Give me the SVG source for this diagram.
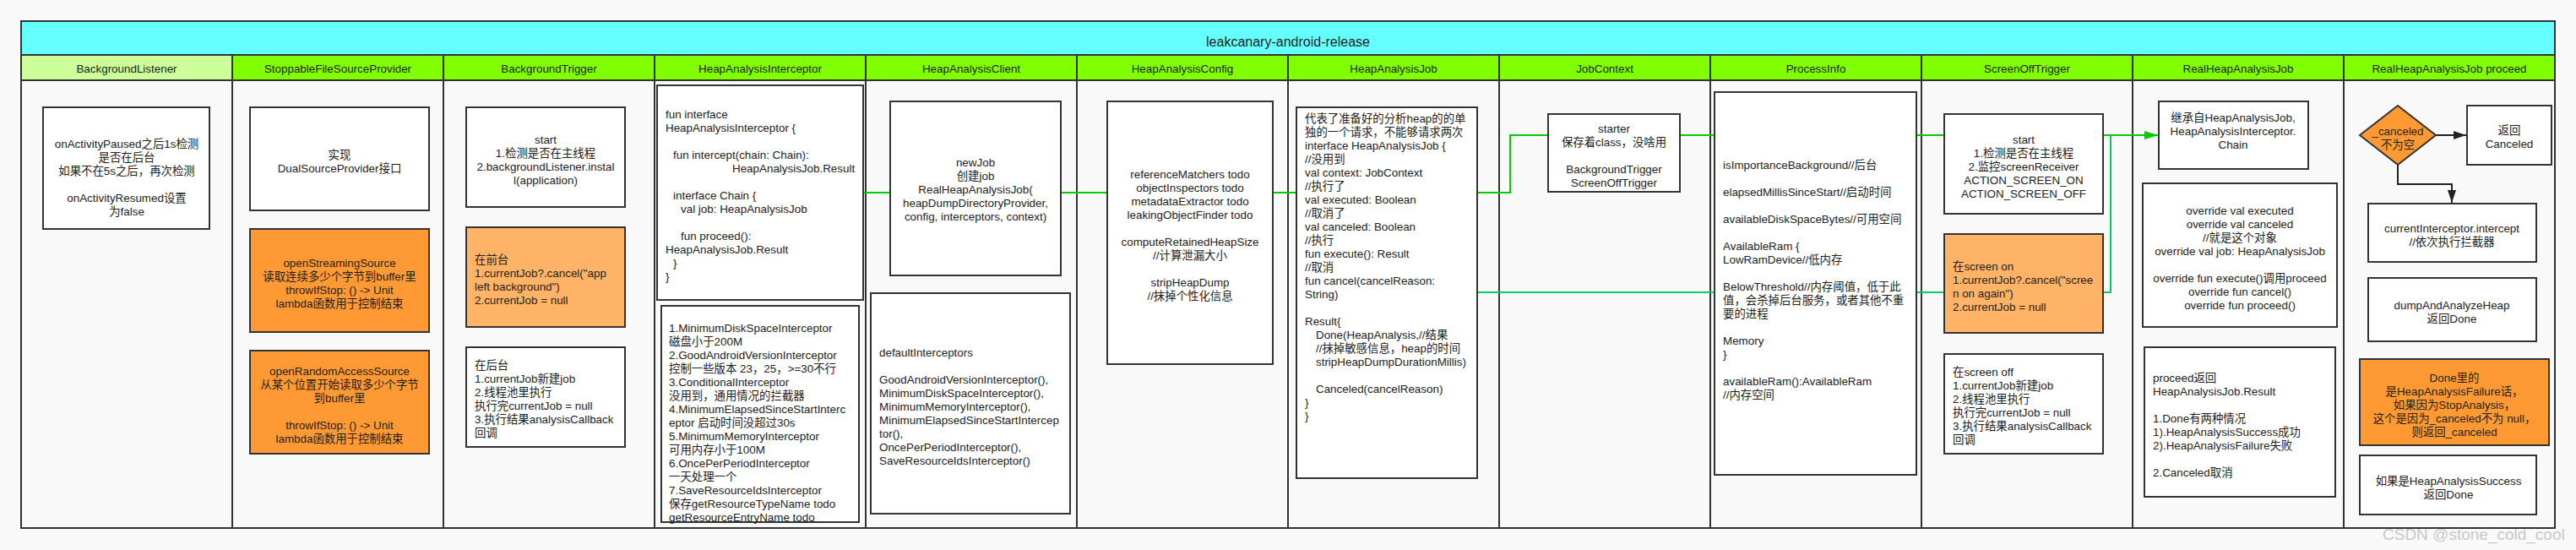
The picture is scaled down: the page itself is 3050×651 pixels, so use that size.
<svg xmlns="http://www.w3.org/2000/svg" width="3050" height="651" viewBox="0 0 3050 651">
<style>
.t{font-family:"Liberation Sans","Noto Sans CJK SC",sans-serif;font-size:13.4px;fill:#222;dominant-baseline:central}
.c{text-anchor:middle}
.h{font-size:13.4px}
.title{font-size:16px}
.box{fill:#fff;stroke:#333;stroke-width:2}
.org{fill:#FF9933;stroke:#333;stroke-width:2}
.lorg{fill:#FFB366;stroke:#333;stroke-width:2}
.lane{stroke:#333;stroke-width:2;fill:none}
.g1{stroke:#00CC00;stroke-width:2;fill:none}
.g2{stroke:#00CC66;stroke-width:2;fill:none}
.blk{stroke:#222;stroke-width:2;fill:none}
.wm{font-family:"Liberation Sans",sans-serif;font-size:19px;fill:#c8c8c8}
</style>
<defs>
<marker id="ag" viewBox="0 0 16 10" refX="16" refY="5" markerWidth="16" markerHeight="10" orient="auto" markerUnits="userSpaceOnUse">
<path d="M0,0 L16,5 L0,10 z" fill="#00CC00"/>
</marker>
<marker id="ab" viewBox="0 0 15 10" refX="15" refY="5" markerWidth="15" markerHeight="10" orient="auto" markerUnits="userSpaceOnUse">
<path d="M0,0 L15,5 L0,10 z" fill="#222"/>
</marker>
</defs>
<rect x="0" y="0" width="3050" height="651" fill="#F9F9F9"/>
<g id="pool">
<rect x="25" y="25" width="3000" height="600" fill="#F9F9F9" stroke="#333" stroke-width="2"/>
<rect x="25" y="25" width="3000" height="40" fill="#66FFFF" stroke="#333" stroke-width="2"/>
<text class="t c title" x="1525" y="49">leakcanary-android-release</text>
<rect x="25" y="65" width="250" height="30" fill="#CCFF99" stroke="#333" stroke-width="2"/>
<rect x="275" y="65" width="2750" height="30" fill="#80FF00" stroke="#333" stroke-width="2"/>
<path class="lane" d="M25,95 H3025 M275,65 V625 M525,65 V625 M775,65 V625 M1025,65 V625 M1275,65 V625 M1525,65 V625 M1775,65 V625 M2025,65 V625 M2275,65 V625 M2525,65 V625 M2775,65 V625"/>
<text class="t c h" x="150" y="81">BackgroundListener</text>
<text class="t c h" x="400" y="81">StoppableFileSourceProvider</text>
<text class="t c h" x="650" y="81">BackgroundTrigger</text>
<text class="t c h" x="900" y="81">HeapAnalysisInterceptor</text>
<text class="t c h" x="1150" y="81">HeapAnalysisClient</text>
<text class="t c h" x="1400" y="81">HeapAnalysisConfig</text>
<text class="t c h" x="1650" y="81">HeapAnalysisJob</text>
<text class="t c h" x="1900" y="81">JobContext</text>
<text class="t c h" x="2150" y="81">ProcessInfo</text>
<text class="t c h" x="2400" y="81">ScreenOffTrigger</text>
<text class="t c h" x="2650" y="81">RealHeapAnalysisJob</text>
<text class="t c h" x="2900" y="81">RealHeapAnalysisJob proceed</text>
</g>

<g id="connectors">
<path class="g2" d="M1749,346 H2499 V160"/>
<path class="g1" d="M1022,228 H1788 V160 H2555" marker-end="url(#ag)"/>
<path class="blk" d="M2884,160 H2920" marker-end="url(#ab)"/>
<path class="blk" d="M2839,195 V218 H2903 V240" marker-end="url(#ab)"/>
</g>

<g id="bl-paused">
<rect class="box" x="51" y="127" width="197" height="144"/>
<text class="t c"><tspan x="150" y="170">onActivityPaused之后1s检测</tspan><tspan x="150" y="186">是否在后台</tspan><tspan x="150" y="202">如果不在5s之后，再次检测</tspan><tspan x="150" y="234">onActivityResumed设置</tspan><tspan x="150" y="250">为false</tspan></text>
</g>

<g id="sfsp-impl">
<rect class="box" x="296" y="127" width="212" height="122"/>
<text class="t c"><tspan x="402" y="183">实现</tspan><tspan x="402" y="199">DualSourceProvider接口</tspan></text>
</g>
<g id="sfsp-streaming">
<rect class="org" x="296" y="271" width="212" height="122"/>
<text class="t c"><tspan x="402" y="311">openStreamingSource</tspan><tspan x="402" y="327">读取连续多少个字节到buffer里</tspan><tspan x="402" y="343">throwIfStop: () -&gt; Unit</tspan><tspan x="402" y="359">lambda函数用于控制结束</tspan></text>
</g>
<g id="sfsp-random">
<rect class="org" x="296" y="415" width="212" height="122"/>
<text class="t c"><tspan x="402" y="439">openRandomAccessSource</tspan><tspan x="402" y="455">从某个位置开始读取多少个字节</tspan><tspan x="402" y="471">到buffer里</tspan><tspan x="402" y="503">throwIfStop: () -&gt; Unit</tspan><tspan x="402" y="519">lambda函数用于控制结束</tspan></text>
</g>

<g id="bt-start">
<rect class="box" x="552" y="127" width="188" height="118"/>
<text class="t c"><tspan x="646" y="165">start</tspan><tspan x="646" y="181">1.检测是否在主线程</tspan><tspan x="646" y="197">2.backgroundListener.instal</tspan><tspan x="646" y="213">l(application)</tspan></text>
</g>
<g id="bt-foreground">
<rect class="lorg" x="552" y="269" width="188" height="118"/>
<text class="t"><tspan x="562" y="307">在前台</tspan><tspan x="562" y="323">1.currentJob?.cancel("app</tspan><tspan x="562" y="339">left background")</tspan><tspan x="562" y="355">2.currentJob = null</tspan></text>
</g>
<g id="bt-background">
<rect class="box" x="552" y="411" width="188" height="118"/>
<text class="t"><tspan x="562" y="432">在后台</tspan><tspan x="562" y="448">1.currentJob新建job</tspan><tspan x="562" y="464">2.线程池里执行</tspan><tspan x="562" y="480">执行完currentJob = null</tspan><tspan x="562" y="496">3.执行结果analysisCallback</tspan><tspan x="562" y="512">回调</tspan></text>
</g>

<g id="hai-interface">
<rect class="box" x="778" y="101" width="244" height="254"/>
<text class="t"><tspan x="788" y="135">fun interface</tspan><tspan x="788" y="151">HeapAnalysisInterceptor {</tspan><tspan x="797" y="183">fun intercept(chain: Chain):</tspan><tspan x="867" y="199">HeapAnalysisJob.Result</tspan><tspan x="797" y="231">interface Chain {</tspan><tspan x="806" y="247">val job: HeapAnalysisJob</tspan><tspan x="806" y="279">fun proceed():</tspan><tspan x="788" y="295">HeapAnalysisJob.Result</tspan><tspan x="797" y="311">}</tspan><tspan x="788" y="327">}</tspan></text>
</g>
<g id="hai-list">
<rect class="box" x="783" y="362" width="234" height="256"/>
<text class="t"><tspan x="792" y="388">1.MinimumDiskSpaceInterceptor</tspan><tspan x="792" y="404">磁盘小于200M</tspan><tspan x="792" y="420">2.GoodAndroidVersionInterceptor</tspan><tspan x="792" y="436">控制一些版本 23，25，&gt;=30不行</tspan><tspan x="792" y="452">3.ConditionalInterceptor</tspan><tspan x="792" y="468">没用到，通用情况的拦截器</tspan><tspan x="792" y="484">4.MinimumElapsedSinceStartInterc</tspan><tspan x="792" y="500">eptor 启动时间没超过30s</tspan><tspan x="792" y="516">5.MinimumMemoryInterceptor</tspan><tspan x="792" y="532">可用内存小于100M</tspan><tspan x="792" y="548">6.OncePerPeriodInterceptor</tspan><tspan x="792" y="564">一天处理一个</tspan><tspan x="792" y="580">7.SaveResourceIdsInterceptor</tspan><tspan x="792" y="596">保存getResourceTypeName todo</tspan><tspan x="792" y="612">getResourceEntryName todo</tspan></text>
</g>

<g id="hac-newjob">
<rect class="box" x="1054" y="120" width="202" height="206"/>
<text class="t c"><tspan x="1155" y="192">newJob</tspan><tspan x="1155" y="208">创建job</tspan><tspan x="1155" y="224">RealHeapAnalysisJob(</tspan><tspan x="1155" y="240">heapDumpDirectoryProvider,</tspan><tspan x="1155" y="256">config, interceptors, context)</tspan></text>
</g>
<g id="hac-default">
<rect class="box" x="1031" y="347" width="236" height="261"/>
<text class="t"><tspan x="1041" y="417">defaultInterceptors</tspan><tspan x="1041" y="449">GoodAndroidVersionInterceptor(),</tspan><tspan x="1041" y="465">MinimumDiskSpaceInterceptor(),</tspan><tspan x="1041" y="481">MinimumMemoryInterceptor(),</tspan><tspan x="1041" y="497">MinimumElapsedSinceStartIntercep</tspan><tspan x="1041" y="513">tor(),</tspan><tspan x="1041" y="529">OncePerPeriodInterceptor(),</tspan><tspan x="1041" y="545">SaveResourceIdsInterceptor()</tspan></text>
</g>

<g id="hacfg">
<rect class="box" x="1311" y="120" width="196" height="311"/>
<text class="t c"><tspan x="1409" y="206">referenceMatchers todo</tspan><tspan x="1409" y="222">objectInspectors todo</tspan><tspan x="1409" y="238">metadataExtractor todo</tspan><tspan x="1409" y="254">leakingObjectFinder todo</tspan><tspan x="1409" y="286">computeRetainedHeapSize</tspan><tspan x="1409" y="302">//计算泄漏大小</tspan><tspan x="1409" y="334">stripHeapDump</tspan><tspan x="1409" y="350">//抹掉个性化信息</tspan></text>
</g>

<g id="haj">
<rect class="box" x="1535" y="127" width="214" height="439"/>
<text class="t"><tspan x="1545" y="140">代表了准备好的分析heap的的单</tspan><tspan x="1545" y="156">独的一个请求，不能够请求两次</tspan><tspan x="1545" y="172">interface HeapAnalysisJob {</tspan><tspan x="1545" y="188">//没用到</tspan><tspan x="1545" y="204">val context: JobContext</tspan><tspan x="1545" y="220">//执行了</tspan><tspan x="1545" y="236">val executed: Boolean</tspan><tspan x="1545" y="252">//取消了</tspan><tspan x="1545" y="268">val canceled: Boolean</tspan><tspan x="1545" y="284">//执行</tspan><tspan x="1545" y="300">fun execute(): Result</tspan><tspan x="1545" y="316">//取消</tspan><tspan x="1545" y="332">fun cancel(cancelReason:</tspan><tspan x="1545" y="348">String)</tspan><tspan x="1545" y="380">Result{</tspan><tspan x="1558" y="396">Done(HeapAnalysis,//结果</tspan><tspan x="1558" y="412">//抹掉敏感信息，heap的时间</tspan><tspan x="1558" y="428">stripHeapDumpDurationMillis)</tspan><tspan x="1558" y="460">Canceled(cancelReason)</tspan><tspan x="1545" y="476">}</tspan><tspan x="1545" y="492">}</tspan></text>
</g>

<g id="jobcontext">
<rect class="box" x="1833" y="135" width="156" height="92"/>
<text class="t c"><tspan x="1911" y="152">starter</tspan><tspan x="1911" y="168">保存着class，没啥用</tspan><tspan x="1911" y="200">BackgroundTrigger</tspan><tspan x="1911" y="216">ScreenOffTrigger</tspan></text>
</g>

<g id="processinfo">
<rect class="box" x="2030" y="109" width="239" height="453"/>
<text class="t"><tspan x="2040" y="195">isImportanceBackground//后台</tspan><tspan x="2040" y="227">elapsedMillisSinceStart//启动时间</tspan><tspan x="2040" y="259">availableDiskSpaceBytes//可用空间</tspan><tspan x="2040" y="291">AvailableRam {</tspan><tspan x="2040" y="307">LowRamDevice//低内存</tspan><tspan x="2040" y="339">BelowThreshold//内存阈值，低于此</tspan><tspan x="2040" y="355">值，会杀掉后台服务，或者其他不重</tspan><tspan x="2040" y="371">要的进程</tspan><tspan x="2040" y="403">Memory</tspan><tspan x="2040" y="419">}</tspan><tspan x="2040" y="451">availableRam():AvailableRam</tspan><tspan x="2040" y="467">//内存空间</tspan></text>
</g>

<g id="sot-start">
<rect class="box" x="2302" y="135" width="188" height="118"/>
<text class="t c"><tspan x="2396" y="165">start</tspan><tspan x="2396" y="181">1.检测是否在主线程</tspan><tspan x="2396" y="197">2.监控screenReceiver</tspan><tspan x="2396" y="213">ACTION_SCREEN_ON</tspan><tspan x="2396" y="229">ACTION_SCREEN_OFF</tspan></text>
</g>
<g id="sot-on">
<rect class="lorg" x="2302" y="277" width="188" height="117"/>
<text class="t"><tspan x="2312" y="315">在screen on</tspan><tspan x="2312" y="331">1.currentJob?.cancel("scree</tspan><tspan x="2312" y="347">n on again")</tspan><tspan x="2312" y="363">2.currentJob = null</tspan></text>
</g>
<g id="sot-off">
<rect class="box" x="2302" y="419" width="188" height="118"/>
<text class="t"><tspan x="2312" y="440">在screen off</tspan><tspan x="2312" y="456">1.currentJob新建job</tspan><tspan x="2312" y="472">2.线程池里执行</tspan><tspan x="2312" y="488">执行完currentJob = null</tspan><tspan x="2312" y="504">3.执行结果analysisCallback</tspan><tspan x="2312" y="520">回调</tspan></text>
</g>

<g id="rhaj-inherit">
<rect class="box" x="2556" y="120" width="177" height="80"/>
<text class="t c"><tspan x="2644" y="139">继承自HeapAnalysisJob,</tspan><tspan x="2644" y="155">HeapAnalysisInterceptor.</tspan><tspan x="2644" y="171">Chain</tspan></text>
</g>
<g id="rhaj-override">
<rect class="box" x="2537" y="217" width="230" height="170"/>
<text class="t c"><tspan x="2652" y="249">override val executed</tspan><tspan x="2652" y="265">override val canceled</tspan><tspan x="2652" y="281">//就是这个对象</tspan><tspan x="2652" y="297">override val job: HeapAnalysisJob</tspan><tspan x="2652" y="329">override fun execute()调用proceed</tspan><tspan x="2652" y="345">override fun cancel()</tspan><tspan x="2652" y="361">override fun proceed()</tspan></text>
</g>
<g id="rhaj-result">
<rect class="box" x="2539" y="411" width="226" height="177"/>
<text class="t"><tspan x="2549" y="447">proceed返回</tspan><tspan x="2549" y="463">HeapAnalysisJob.Result</tspan><tspan x="2549" y="495">1.Done有两种情况</tspan><tspan x="2549" y="511">1).HeapAnalysisSuccess成功</tspan><tspan x="2549" y="527">2).HeapAnalysisFailure失败</tspan><tspan x="2549" y="559">2.Canceled取消</tspan></text>
</g>

<g id="p-decision">
<path class="org" d="M2839,125 L2884,160 L2839,195 L2794,160 Z"/>
<text class="t c"><tspan x="2839" y="155">_canceled</tspan><tspan x="2839" y="171">不为空</tspan></text>
</g>
<g id="p-canceled">
<rect class="box" x="2921" y="125" width="100" height="70"/>
<text class="t c"><tspan x="2971" y="154">返回</tspan><tspan x="2971" y="170">Canceled</tspan></text>
</g>
<g id="p-intercept">
<rect class="box" x="2804" y="241" width="199" height="69"/>
<text class="t c"><tspan x="2903" y="270">currentInterceptor.intercept</tspan><tspan x="2903" y="286">//依次执行拦截器</tspan></text>
</g>
<g id="p-dump">
<rect class="box" x="2804" y="329" width="199" height="75"/>
<text class="t c"><tspan x="2903" y="361">dumpAndAnalyzeHeap</tspan><tspan x="2903" y="377">返回Done</tspan></text>
</g>
<g id="p-failure">
<rect class="org" x="2794" y="425" width="224" height="102"/>
<text class="t c"><tspan x="2906" y="447">Done里的</tspan><tspan x="2906" y="463">是HeapAnalysisFailure话，</tspan><tspan x="2906" y="479">如果因为StopAnalysis，</tspan><tspan x="2906" y="495">这个是因为_canceled不为 null，</tspan><tspan x="2906" y="511">则返回_canceled</tspan></text>
</g>
<g id="p-success">
<rect class="box" x="2794" y="539" width="209" height="70"/>
<text class="t c"><tspan x="2899" y="569">如果是HeapAnalysisSuccess</tspan><tspan x="2899" y="585">返回Done</tspan></text>
</g>

<text class="wm" x="2821" y="639">CSDN @stone_cold_cool</text>
</svg>
